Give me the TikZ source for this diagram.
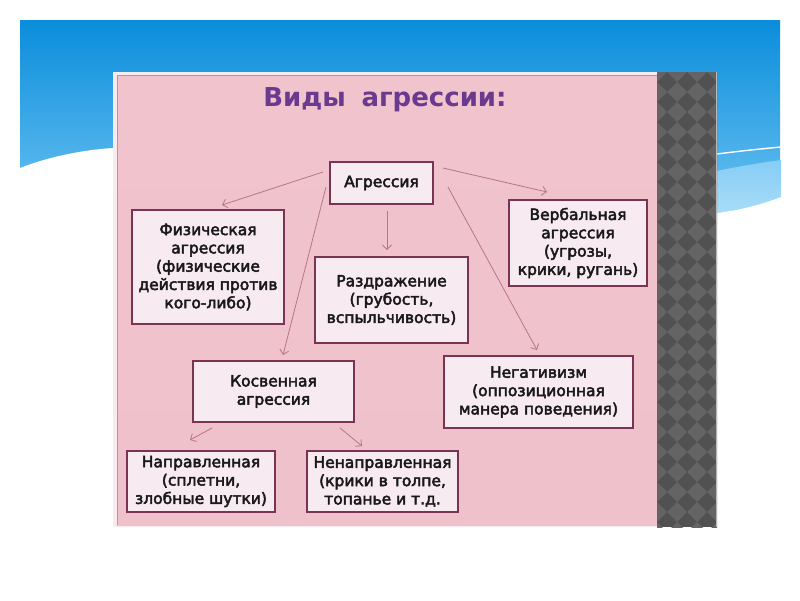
\documentclass[tikz,border=0pt]{standalone}
\usepackage{fontspec}
\setmainfont{DejaVu Sans}
\newfontfamily\boxfont[FakeBold=3]{DejaVu Sans}
\usetikzlibrary{arrows.meta,calc}
\definecolor{boxc}{HTML}{7B3352}
\definecolor{boxfill}{HTML}{F7EAF0}
\definecolor{arrc}{HTML}{B7758C}
\definecolor{titlec}{HTML}{6B3A8E}
\definecolor{blueA}{HTML}{0A8DDB}
\definecolor{blueB}{HTML}{6CC2F2}
\definecolor{bandA}{HTML}{86CDF5}
\definecolor{bandB}{HTML}{A8DCF9}
\definecolor{pinkA}{HTML}{F0C3CD}
\definecolor{pinkM}{HTML}{F6D5DD}
\definecolor{pinkB}{HTML}{EFC1CB}
\definecolor{framec}{HTML}{F8EAEE}
\definecolor{framel}{HTML}{C68FA0}
\definecolor{stripdark}{HTML}{515151}
\definecolor{striplight}{HTML}{646464}
\tikzset{
  box/.style={draw=boxc, line width=2.8pt, fill=boxfill, align=center, inner sep=0pt,
    font=\boxfont\fontsize{15.5}{18.3}\selectfont, text=black!90},
  arr/.style={draw=arrc, line width=0.8pt, -{Straight Barb[length=4.5pt,width=9pt]}},
  titlestyle/.style={font=\fontsize{26}{30}\selectfont\bfseries, text=titlec}
}
\begin{document}
\begin{tikzpicture}[x=1pt,y=-1pt]
\useasboundingbox (0,0) rectangle (800,600);
\fill[white] (0,0) rectangle (800,600);
% blue sky band
\shade[top color=blueA, bottom color=blueB] (20,20) rectangle (780,215);
\fill[white] (20,168) .. controls (45,158) and (80,150) .. (113,148) -- (113,222) -- (20,222) -- cycle;
\shade[top color=bandA, bottom color=bandB] (717,171) .. controls (740,166) and (760,163) .. (781,160) -- (781,197) .. controls (760,205) and (740,210) .. (717,213) -- cycle;
\fill[white] (717,213) .. controls (740,210) and (760,205) .. (781,197) -- (781,222) -- (717,222) -- cycle;
\draw[white, line width=1.4pt] (717,154) .. controls (740,151) and (760,149) .. (781,147);
% pink picture
\fill[framec] (113,72) rectangle (657,527);
\shade[top color=pinkA, middle color=pinkM, bottom color=pinkB] (117,75) rectangle (657,525);
\draw[framel, line width=0.6pt] (117,525) -- (117,75) -- (657,75);
% patterned strip
\begin{scope}
\clip (657,72) rectangle (717,527);
\fill[stripdark] (657,72) rectangle (717,527);
\foreach \i in {0,...,3}{
  \foreach \j in {0,...,23}{
    \fill[striplight] ({657+20*\i},{72+20*\j}) +(10,0) -- +(0,10) -- +(-10,0) -- +(0,-10) -- cycle;
  }
}
\end{scope}
\draw[gray!55, line width=1pt] (716.5,72) -- (716.5,527);
% title
\node[titlestyle] (title) at (385,100) {Виды\hspace{0.6em}агрессии:};
% boxes
\node[box, minimum width=103pt, minimum height=42pt] (ag) at (381.5,183) {Агрессия};
\node[box, minimum width=152pt, minimum height=114pt] (fiz) at (208,267) {Физическая\\агрессия\\(физические\\действия против\\кого-либо)};
\node[box, minimum width=153pt, minimum height=86pt] (raz) at (391.5,300) {Раздражение\\(грубость,\\вспыльчивость)};
\node[box, minimum width=138pt, minimum height=86pt] (ver) at (578,243) {Вербальная\\агрессия\\(угрозы,\\крики, ругань)};
\node[box, minimum width=161pt, minimum height=61pt] (kos) at (273.5,391.5) {Косвенная\\агрессия};
\node[box, minimum width=189pt, minimum height=72pt] (neg) at (538.5,392) {Негативизм\\(оппозиционная\\манера поведения)};
\node[box, minimum width=148pt, minimum height=61pt] (nap) at (201,481.5) {Направленная\\(сплетни,\\злобные шутки)};
\node[box, minimum width=151pt, minimum height=61pt] (nen) at (382.5,481.5) {Ненаправленная\\(крики в толпе,\\топанье и т.д.};
% connector ends
\coordinate (s1) at (323,172); \coordinate (e1) at (222,205);
\coordinate (s2) at (387,211); \coordinate (e2) at (387,250);
\coordinate (s3) at (326,187); \coordinate (e3) at (283,355);
\coordinate (s4) at (443,168); \coordinate (e4) at (547,192);
\coordinate (s5) at (448,187); \coordinate (e5) at (537,350);
\coordinate (s6) at (212,428); \coordinate (e6) at (190,440);
\coordinate (s7) at (340,428); \coordinate (e7) at (362,446);
\draw[arr] (s1) -- (e1);
\draw[arr] (s2) -- (e2);
\draw[arr] (s3) -- (e3);
\draw[arr] (s4) -- (e4);
\draw[arr] (s5) -- (e5);
\draw[arr] (s6) -- (e6);
\draw[arr] (s7) -- (e7);
\end{tikzpicture}
\end{document}
